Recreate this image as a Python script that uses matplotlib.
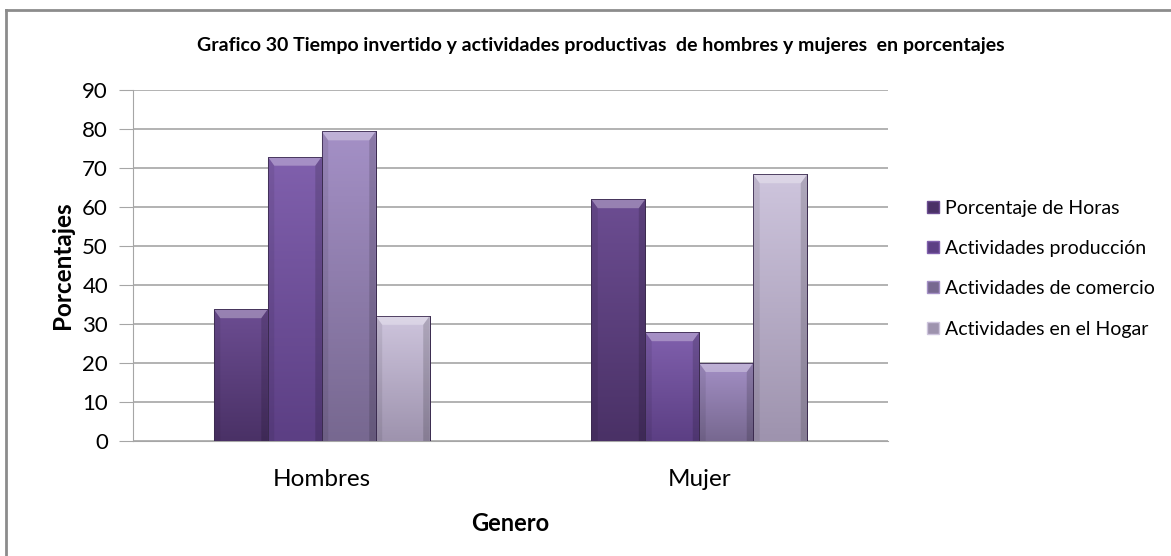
import numpy as np
import matplotlib.pyplot as plt
from matplotlib.patches import Polygon
from matplotlib.lines import Line2D

plt.rcParams['font.family'] = ['Lato', 'DejaVu Sans']

generos = ["Hombres", "Mujer"]
series = ["Porcentaje de Horas", "Actividades producción",
          "Actividades de comercio", "Actividades en el Hogar"]
porc_horas = [33.8, 62.0]
act_produccion = [72.9, 27.9]
act_comercio = [79.4, 20.0]
act_hogar = [32.1, 68.4]
valores = [porc_horas, act_produccion, act_comercio, act_hogar]

# top / bottom shade of each series
tonos = [("#6c4d92", "#4a3166"),
         ("#8060ad", "#5c3f84"),
         ("#a490c6", "#776890"),
         ("#cec5dd", "#9e93ae")]

fig = plt.figure(figsize=(11.71, 5.56), dpi=100)
ax = fig.add_axes([0.1136, 0.2068, 0.6447, 0.6313])

x = np.arange(len(generos))
ancho = 0.143
for i, vals in enumerate(valores):
    pos = x + (i - 1.5) * ancho
    top, bot = tonos[i]
    bars = ax.bar(pos, vals, ancho, color=bot, edgecolor="#3a2a4e",
                  linewidth=0.6, zorder=3, label=series[i])
    cmap = plt.matplotlib.colors.LinearSegmentedColormap.from_list("g", [bot, top])
    grad = np.linspace(0, 1, 100).reshape(-1, 1)
    for b, v in zip(bars, vals):
        x0 = b.get_x()
        w = b.get_width()
        im = ax.imshow(grad, cmap=cmap, aspect="auto", origin="lower",
                       extent=[x0, x0 + w, 0, v], zorder=3.5)
        im.set_clip_path(b)
        # bevel on top of the bar
        h = 2.3
        d = w * 0.12
        ax.add_patch(Polygon([[x0, v], [x0 + w, v], [x0 + w - d, v - h], [x0 + d, v - h]],
                             closed=True, facecolor="white", alpha=0.3,
                             edgecolor="none", zorder=4))
        ax.add_patch(Polygon([[x0, v], [x0 + d, v - h], [x0 + d, 0], [x0, 0]],
                             closed=True, facecolor="black", alpha=0.08,
                             edgecolor="none", zorder=4))
        ax.add_patch(Polygon([[x0 + w, v], [x0 + w - d, v - h], [x0 + w - d, 0], [x0 + w, 0]],
                             closed=True, facecolor="black", alpha=0.15,
                             edgecolor="none", zorder=4))
        ax.add_patch(plt.Rectangle((x0, 0), w, v, fill=False, edgecolor="#3a2a4e",
                                   linewidth=0.6, zorder=5))

ax.set_xlim(-0.5, 1.5)
ax.set_ylim(0, 90)
ax.set_yticks(range(0, 91, 10))
ax.set_xticks(x)
ax.set_xticklabels(generos)
ax.yaxis.grid(True, color="#a6a6a6", linewidth=1.2, zorder=0)
ax.set_axisbelow(True)
for s in ["top", "right"]:
    ax.spines[s].set_visible(False)
ax.spines["left"].set_color("#a6a6a6")
ax.spines["bottom"].set_color("#a6a6a6")
ax.tick_params(axis="y", length=10, color="#a6a6a6", labelsize=16, pad=8)
ax.tick_params(axis="x", length=0, labelsize=17.5, pad=20)

ax.set_ylabel("Porcentajes", fontsize=17.5, fontweight="bold", labelpad=6)
ax.set_xlabel("Genero", fontsize=17, fontweight="bold", labelpad=16)

fig.text(0.513, 0.918, "Grafico 30 Tiempo invertido y actividades productivas  de hombres y mujeres  en porcentajes",
         ha="center", va="center", fontsize=14, fontweight="bold")

handles = [Line2D([], [], marker="s", linestyle="none", markersize=8,
                  markerfacecolor=t[1], markeredgecolor=t[0]) for t in tonos]
fig.legend(handles, series, loc="upper left", bbox_to_anchor=(0.785, 0.655),
           frameon=False, fontsize=14, labelspacing=1.2, handlelength=0.6,
           handletextpad=0.3, borderaxespad=0)

# frame around the chart
fig.add_artist(Line2D([0.0055, 0.0055], [0, 0.982], color="#8c8c8c", linewidth=2))
fig.add_artist(Line2D([0.0055, 1], [0.982, 0.982], color="#8c8c8c", linewidth=2))

fig.savefig("out.png", dpi=100)
